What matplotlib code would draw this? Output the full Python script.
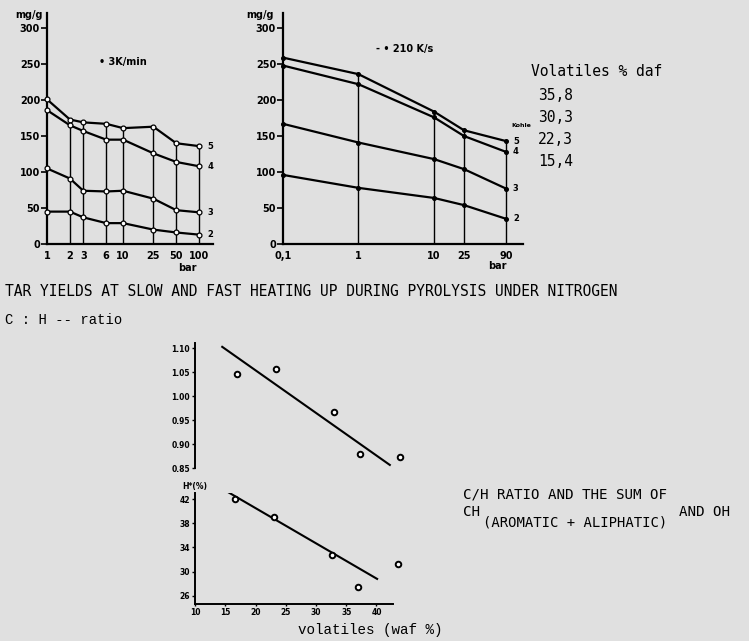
import numpy as np
import matplotlib
matplotlib.use('Agg')
import matplotlib.pyplot as plt
from matplotlib.ticker import NullLocator, FixedLocator

# ---------------- data ----------------
pressure_slow = [1, 2, 3, 6, 10, 25, 50, 100]
slow_5 = [201, 173, 169, 167, 161, 163, 140, 136]
slow_4 = [186, 165, 157, 145, 145, 126, 114, 108]
slow_3 = [105, 91, 74, 73, 74, 63, 47, 44]
slow_2 = [45, 45, 37, 29, 29, 20, 16, 13]

pressure_fast = [0.1, 1, 10, 25, 90]
fast_5 = [259, 236, 184, 158, 143]
fast_4 = [248, 222, 176, 150, 128]
fast_3 = [167, 141, 118, 104, 77]
fast_2 = [96, 78, 64, 54, 35]

coal_labels = ['5', '4', '3', '2']
slow_ticklabels = ['1', '2', '3', '6', '10', '25', '50', '100']
fast_ticklabels = ['0,1', '1', '10', '25', '90']
yield_ticks = [0, 50, 100, 150, 200, 250, 300]
volatiles_legend = ['35,8', '30,3', '22,3', '15,4']

ch_vol = [16.9, 23.4, 33.0, 37.3, 43.9]
ch_ratio = [1.046, 1.057, 0.968, 0.879, 0.873]
ch_fit_vol = [14.5, 42.2]
ch_fit_ratio = [1.103, 0.857]
ch_ticks = [0.85, 0.90, 0.95, 1.00, 1.05, 1.10]

h_vol = [16.6, 23.1, 32.7, 37.0, 43.6]
h_sum = [42.0, 39.0, 32.7, 27.5, 31.3]
h_fit_vol = [15.2, 40.1]
h_fit_sum = [43.3, 28.8]
h_ticks = [26, 30, 34, 38, 42]
vol_ticks = [10, 15, 20, 25, 30, 35, 40]

# ---------------- figure ----------------
W, H = 749, 641
BG = '#e0e0e0'
fig = plt.figure(figsize=(W / 100, H / 100), dpi=100, facecolor=BG)


def rect(x0, y_bottom, w, h):
    return [x0 / W, 1 - y_bottom / H, w / W, h / H]


def ftext(px, py, s, **kw):
    fig.text(px / W, 1 - py / H, s, **kw)


sans_bold = dict(family='DejaVu Sans', fontweight='bold')


def style_top(ax, xlim, ticks, ticklabels):
    ax.set_facecolor(BG)
    ax.set_xscale('log')
    ax.set_xlim(*xlim)
    ax.set_ylim(0, 321)
    for s in ('top', 'right'):
        ax.spines[s].set_visible(False)
    for s in ('left', 'bottom'):
        ax.spines[s].set_linewidth(1.6)
    ax.xaxis.set_minor_locator(NullLocator())
    ax.xaxis.set_major_locator(FixedLocator(ticks))
    ax.set_xticklabels(ticklabels, fontsize=7, **sans_bold)
    ax.set_yticks(yield_ticks)
    ax.set_yticklabels([str(t) for t in yield_ticks], fontsize=7, **sans_bold)
    ax.tick_params(axis='x', length=0, pad=5)
    ax.tick_params(axis='y', direction='out', length=4, width=1.2, pad=1)


# ---- slow heating panel ----
ax1 = fig.add_axes(rect(47, 244, 166, 231))
style_top(ax1, (1, 152), pressure_slow, slow_ticklabels)
ax1.vlines(pressure_slow[1:], 0, slow_5[1:], color='black', lw=1.0)
for series, lab in zip([slow_5, slow_4, slow_3, slow_2], coal_labels):
    ax1.plot(pressure_slow, series, color='black', lw=1.6, marker='o', ms=3.5,
             mfc='white', mec='black', mew=0.9, clip_on=False, zorder=3)
    ax1.annotate(lab, (pressure_slow[-1], series[-1]), xytext=(6, 0),
                 textcoords='offset points', va='center', ha='left',
                 fontsize=6, **sans_bold)

# ---- fast heating panel ----
ax2 = fig.add_axes(rect(283, 244, 240, 231))
style_top(ax2, (0.1, 151), pressure_fast, fast_ticklabels)
ax2.vlines(pressure_fast[1:], 0, fast_5[1:], color='black', lw=1.0)
for series, lab in zip([fast_5, fast_4, fast_3, fast_2], coal_labels):
    ax2.plot(pressure_fast, series, color='black', lw=1.6, marker='o', ms=2.6,
             mfc='black', mec='black', clip_on=False, zorder=3)
    ax2.annotate(lab, (pressure_fast[-1], series[-1]), xytext=(5, 0),
                 textcoords='offset points', va='center', ha='left',
                 fontsize=6, **sans_bold)
ax2.annotate('Kohle', (pressure_fast[-1], fast_5[-1]), xytext=(4, 11),
             textcoords='offset points', va='center', ha='left',
             fontsize=4.5, **sans_bold)

# top panel annotations
ftext(29, 15, 'mg/g', fontsize=7, ha='center', va='center', **sans_bold)
ftext(260, 15, 'mg/g', fontsize=7, ha='center', va='center', **sans_bold)
ftext(99, 62, '\u2022 3K/min', fontsize=7, ha='left', va='center', **sans_bold)
ftext(376, 49, '- \u2022 210 K/s', fontsize=7, ha='left', va='center', **sans_bold)
ftext(187, 268, 'bar', fontsize=7, ha='center', va='center', **sans_bold)
ftext(497, 266, 'bar', fontsize=7, ha='center', va='center', **sans_bold)

mono = dict(family='DejaVu Sans Mono')
ftext(531, 72, 'Volatiles % daf', fontsize=10.5, ha='left', va='center', **mono)
for i, v in enumerate(volatiles_legend):
    ftext(538, 95 + 22.3 * i, v, fontsize=10.5, ha='left', va='center', **mono)

ftext(5, 292, 'TAR YIELDS AT SLOW AND FAST HEATING UP DURING PYROLYSIS UNDER NITROGEN',
      fontsize=10.5, ha='left', va='center', **mono)

# ---- C/H ratio panel ----
ax3 = fig.add_axes(rect(195, 468.3, 211.75, 125.3))
ax3.set_facecolor('none')
ax3.set_xlim(10, 45)
ax3.set_ylim(0.85, 1.111)
for s in ('top', 'right', 'bottom'):
    ax3.spines[s].set_visible(False)
ax3.spines['left'].set_linewidth(1.4)
ax3.set_xticks([])
ax3.set_yticks(ch_ticks)
ax3.set_yticklabels(['%.2f' % t for t in ch_ticks], fontsize=5.5, **sans_bold)
ax3.tick_params(axis='y', direction='out', length=2.5, width=1.0, pad=1)
ax3.plot(ch_fit_vol, ch_fit_ratio, color='black', lw=1.5)
ax3.plot(ch_vol, ch_ratio, ls='none', marker='o', ms=4, mfc='white', mec='black',
         mew=1.4, clip_on=False)

# ---- H sum panel ----
ax4 = fig.add_axes(rect(195, 604.3, 211.75, 111.3))
ax4.set_facecolor('none')
ax4.set_xlim(10, 45)
ax4.set_ylim(24.6, 43.0)
for s in ('top', 'right'):
    ax4.spines[s].set_visible(False)
ax4.spines['left'].set_linewidth(1.4)
ax4.spines['bottom'].set_linewidth(1.4)
ax4.spines['bottom'].set_bounds(10, 42.7)
ax4.set_xticks(vol_ticks)
ax4.set_xticklabels([str(t) for t in vol_ticks], fontsize=5.5, **sans_bold)
ax4.set_yticks(h_ticks)
ax4.set_yticklabels([str(t) for t in h_ticks], fontsize=5.5, **sans_bold)
ax4.tick_params(axis='y', direction='out', length=2.5, width=1.0, pad=1)
ax4.tick_params(axis='x', direction='out', length=1.5, width=1.0, pad=1.5)
ax4.plot(h_fit_vol, h_fit_sum, color='black', lw=1.5)
ax4.plot(h_vol, h_sum, ls='none', marker='o', ms=4, mfc='white', mec='black',
         mew=1.4, clip_on=False)
ftext(195, 486, 'H*(%)', fontsize=5.5, ha='center', va='center', **sans_bold)

courier = dict(family='Liberation Mono')
ftext(5, 320, 'C : H -- ratio', fontsize=10, ha='left', va='center', **courier)
ftext(370, 630, 'volatiles (waf %)', fontsize=10.3, ha='center', va='center',
      **courier)

ftext(463, 495, 'C/H RATIO AND THE SUM OF', fontsize=10.2, ha='left', va='center', **mono)
ftext(463, 512, 'CH', fontsize=10.2, ha='left', va='center', **mono)
ftext(483, 523, '(AROMATIC + ALIPHATIC)', fontsize=10, ha='left', va='center', **mono)
ftext(679, 512, 'AND OH', fontsize=10.2, ha='left', va='center', **mono)

fig.savefig('out.png', dpi=100, facecolor=BG)
